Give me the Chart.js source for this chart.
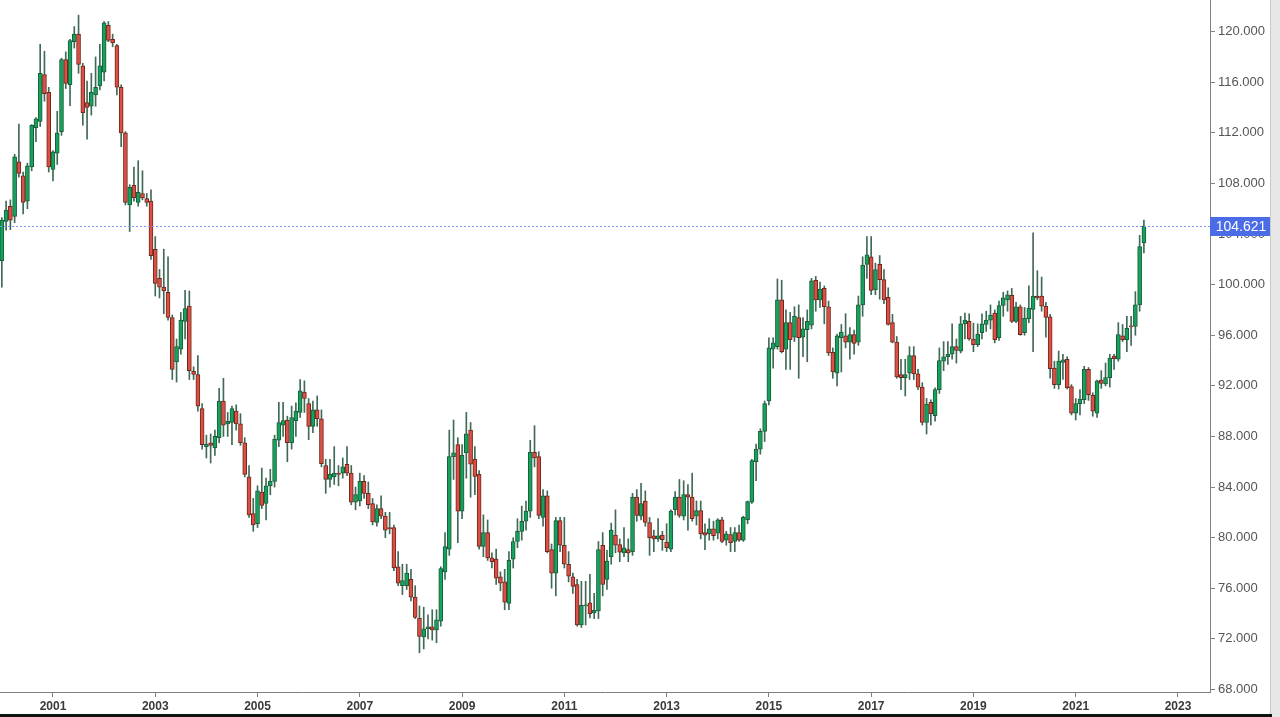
<!DOCTYPE html>
<html>
<head>
<meta charset="utf-8">
<script src="https://cdn.jsdelivr.net/npm/chart.js@4.4.1/dist/chart.umd.min.js"></script>
<style>
  html, body { margin: 0; padding: 0; background: #fff; }
  #wrap { position: absolute; left: 0; top: 0; width: 1270px; height: 714px; }
  #strip { position: absolute; left: 1270px; top: 0; width: 10px; height: 717px; background: #e6e6e6; border-left: 1px solid #c8c8c8; box-sizing: border-box; }
  #base { position: absolute; left: 0; top: 714px; width: 1272px; height: 3px; background: #111; }
</style>
</head>
<body>
<div id="wrap"><canvas id="chart"></canvas></div>
<div id="strip"></div>
<div id="base"></div>
<script>
// monthly candles, Jan 2000 -> May 2022 (one row per year)
const firstYear = 2000;

const open = [
  101.9,105.0,106.2,105.4,109.7,108.6,106.6,109.3,112.4,112.9,116.6,115.2,
  109.1,110.4,112.1,117.8,115.8,119.2,119.8,117.3,114.4,114.1,115.0,115.7,
  116.8,120.5,119.4,118.9,115.6,112.0,106.3,107.85,106.5,107.2,106.8,106.6,
  102.8,100.5,99.8,99.4,97.4,93.9,94.9,97.1,98.3,93.15,92.9,90.2,
  87.2,87.5,87.1,87.9,90.8,89.0,89.1,90.0,89.0,87.5,84.8,81.9,
  81.1,83.6,82.7,84.1,84.45,87.7,88.9,89.3,87.5,89.25,89.9,91.5,
  90.6,88.8,90.1,89.4,85.7,84.6,84.8,85.1,85.1,85.8,85.1,82.8,
  82.9,84.45,83.5,82.7,81.2,82.3,81.7,80.8,80.8,77.7,76.2,76.2,
  76.7,75.3,73.65,72.15,72.8,72.95,72.7,73.4,77.3,79.1,86.4,87.35,
  82.1,86.7,88.5,86.2,85.0,79.3,80.4,78.4,78.3,76.9,76.5,74.8,
  78.3,79.7,80.5,81.3,82.1,86.75,86.4,81.6,83.3,79.05,77.2,81.35,
  79.4,77.9,76.9,76.3,73.1,74.6,74.85,74.05,74.2,79.4,76.7,78.5,
  80.2,79.45,78.8,79.05,78.9,83.2,81.7,82.9,81.2,80.15,79.9,80.2,
  79.65,79.1,82.2,83.2,81.7,83.4,83.2,81.7,82.15,80.4,80.3,80.7,
  80.35,81.4,79.8,80.25,79.7,80.4,79.8,81.4,82.8,86.0,87.0,88.4,
  90.8,94.9,95.1,98.8,94.9,97.0,95.85,97.4,95.85,96.45,96.8,100.35,
  98.8,99.7,98.25,94.65,93.0,95.8,95.95,95.45,96.05,95.45,98.4,101.6,
  102.2,99.6,101.6,100.4,99.0,97.0,95.45,92.9,92.65,93.0,94.4,92.95,
  91.9,89.1,90.7,89.65,91.7,93.95,94.3,94.5,95.1,94.75,96.9,97.1,
  95.7,95.25,96.2,96.85,97.2,97.75,95.8,98.35,98.8,99.15,97.1,98.25,
  96.2,97.3,98.05,99.1,99.1,98.3,97.45,93.4,92.1,93.85,94.1,91.95,
  89.85,90.6,90.9,93.3,91.25,89.85,92.45,92.15,92.65,94.35,94.1,95.95,
  95.65,96.75,96.7,98.4,103.3
];

const high = [
  105.3,106.6,106.7,110.3,112.7,108.9,109.6,112.65,113.2,119.0,118.45,115.6,
  110.6,113.7,117.9,118.4,119.4,120.4,121.3,117.5,116.1,116.7,118.0,119.0,
  120.8,120.8,119.8,119.0,115.8,112.1,107.9,109.3,109.8,109.0,107.2,107.5,
  103.8,101.2,102.8,102.2,97.6,95.7,97.8,99.55,99.5,93.5,94.4,90.6,
  88.1,88.2,88.5,91.8,92.6,89.9,90.4,90.5,89.8,87.9,85.7,83.1,
  84.1,85.5,84.7,85.4,88.1,90.7,90.7,89.6,90.4,90.65,92.5,92.4,
  91.0,90.8,91.2,90.1,86.2,86.2,87.2,85.7,86.3,87.2,85.7,84.0,
  85.1,84.9,84.4,83.1,82.6,83.3,82.0,82.0,81.0,78.9,77.9,77.9,
  77.5,76.2,74.6,74.5,73.9,74.3,74.3,77.7,80.4,88.5,89.3,87.9,
  87.35,89.9,89.1,87.2,85.3,81.8,81.4,78.8,79.1,77.3,77.5,78.9,
  80.0,81.5,82.5,82.9,87.7,88.85,86.8,83.8,83.7,79.5,81.6,81.6,
  81.6,78.9,77.2,76.7,76.55,76.55,77.1,75.6,79.7,80.4,79.0,81.15,
  82.2,79.9,80.8,79.9,83.5,83.8,84.3,83.7,81.6,80.6,81.5,80.5,
  81.1,82.2,83.65,84.6,84.5,84.2,85.1,82.9,82.9,81.1,81.5,81.3,
  81.5,81.6,80.5,80.8,80.8,81.0,81.7,82.9,86.2,87.4,88.6,90.8,
  95.8,95.8,100.45,100.35,98.0,97.8,98.25,98.4,97.4,98.0,100.5,100.65,
  100.2,99.9,98.7,95.0,96.1,96.85,97.7,96.6,96.4,99.1,102.2,103.8,
  103.8,101.7,102.3,101.2,99.75,97.65,95.9,94.1,94.1,95.1,95.1,93.3,
  92.25,91.0,90.9,91.85,95.0,95.5,95.5,96.9,95.7,97.5,97.75,97.7,
  96.95,96.9,97.7,97.9,98.4,98.0,98.7,99.4,99.5,99.7,98.6,98.4,
  98.2,99.9,104.1,101.1,100.6,98.6,97.65,93.95,94.75,94.5,94.3,92.1,
  91.0,91.7,93.55,93.45,91.45,92.45,93.2,93.8,94.5,94.5,97.0,96.85,
  97.5,97.5,99.45,103.9,105.1
];

const low = [
  99.8,104.3,104.35,104.9,108.5,105.6,106.0,109.0,111.3,112.5,114.5,108.9,
  108.2,109.5,111.8,115.5,114.15,118.7,116.7,112.6,111.5,113.4,114.1,115.4,
  116.1,119.2,118.8,115.0,110.9,106.3,104.2,106.6,106.2,106.7,106.2,102.0,
  99.1,98.95,97.7,97.2,92.5,92.3,94.5,95.7,92.5,92.5,90.0,87.0,
  86.3,85.9,86.5,87.5,88.0,88.0,87.35,88.5,87.3,84.8,81.6,80.5,
  80.8,82.3,81.4,83.4,84.0,87.2,88.0,86.0,87.0,88.0,89.5,89.9,
  87.75,88.3,88.8,85.6,83.5,84.0,84.2,84.1,84.7,84.9,82.6,82.2,
  82.5,83.1,82.3,81.0,80.9,81.5,80.0,80.3,77.4,76.2,75.5,75.9,
  75.0,73.6,70.9,71.2,72.0,71.9,71.7,73.0,76.7,78.6,84.6,79.6,
  81.5,84.7,83.2,83.4,79.1,78.5,78.2,77.6,76.3,75.8,74.3,74.3,
  77.6,79.2,79.8,80.6,81.6,85.6,81.5,80.9,78.8,76.0,75.4,78.9,
  77.6,76.5,75.6,73.0,72.9,73.1,73.65,73.6,73.6,75.4,75.9,77.9,
  78.8,78.1,78.5,78.1,78.6,81.3,81.4,80.9,78.6,78.9,79.7,79.0,
  78.9,78.9,81.8,81.6,81.4,80.6,81.3,81.0,79.9,79.05,79.8,79.8,
  79.9,79.6,79.4,78.9,78.9,79.7,79.7,81.1,82.7,84.5,86.6,87.6,
  90.5,93.4,94.9,94.6,93.3,93.3,95.5,92.6,94.3,93.9,96.5,97.9,
  98.2,96.9,94.4,92.6,92.0,93.1,95.0,94.1,94.5,95.2,97.5,100.5,
  99.2,99.2,98.85,98.5,96.8,95.4,92.6,91.7,91.2,92.5,92.5,91.7,
  88.9,88.2,88.9,89.2,91.4,93.2,93.7,94.1,93.8,94.6,95.7,95.6,
  94.7,95.1,95.7,96.3,96.5,95.4,95.6,97.5,97.9,97.0,97.0,96.0,
  96.0,97.0,94.7,98.8,97.9,95.85,92.6,91.8,91.75,92.5,91.75,89.7,
  89.3,89.7,90.6,90.85,89.6,89.5,91.8,92.0,91.9,93.3,93.95,95.5,
  94.7,95.2,96.0,97.9,102.5
];

const close = [
  105.1,105.9,105.1,110.1,108.8,106.5,109.4,112.6,113.1,116.7,115.1,109.3,
  110.5,112.0,117.8,115.9,119.3,119.8,117.4,113.6,114.0,115.2,115.6,117.3,
  120.7,119.3,119.1,115.6,112.0,106.5,107.7,106.85,107.3,106.85,106.5,102.3,
  100.1,99.8,99.5,97.4,93.3,95.1,97.2,98.1,93.2,92.9,90.4,87.35,
  87.4,87.3,88.0,90.8,88.9,89.2,90.2,89.0,87.5,85.0,81.8,81.0,
  83.7,82.55,84.1,84.45,87.8,89.1,89.25,87.5,89.5,90.0,91.6,91.0,
  88.8,90.1,89.4,85.85,84.6,85.0,85.1,85.0,85.6,85.1,82.8,83.4,
  84.45,83.5,82.6,81.25,82.3,81.7,80.6,80.7,77.6,76.4,76.6,77.2,
  75.3,73.7,72.2,72.8,72.95,72.7,73.5,77.55,79.3,86.4,86.7,82.1,
  86.5,88.2,85.8,84.85,79.3,80.4,78.4,78.1,76.8,76.4,74.9,78.2,
  79.7,80.5,81.3,82.1,86.75,86.3,81.75,83.3,78.9,77.2,81.35,79.4,
  77.9,76.95,76.15,73.1,74.65,74.7,74.0,74.25,79.05,76.3,78.15,80.6,
  79.4,78.85,79.2,78.8,83.2,81.75,82.7,81.2,80.0,79.9,80.15,79.85,
  79.2,82.1,83.2,81.75,83.4,83.2,81.5,82.15,80.3,80.2,80.7,80.15,
  81.4,79.7,80.3,79.6,80.4,79.8,81.6,82.85,86.1,87.0,88.4,90.6,
  95.0,95.4,98.8,94.7,97.0,95.65,97.5,95.8,96.5,97.1,100.3,98.8,
  99.65,98.25,94.6,93.1,95.95,96.25,95.45,96.05,95.35,98.4,101.55,102.35,
  99.55,101.2,100.4,98.8,96.85,95.45,92.7,92.65,92.9,94.4,92.95,91.9,
  89.1,90.55,89.8,91.7,94.0,94.3,94.5,95.1,94.8,96.9,97.2,95.7,
  95.25,96.1,96.9,97.2,97.6,95.65,98.35,98.95,99.2,97.1,98.25,96.05,
  97.35,98.15,99.1,98.95,98.3,97.4,93.35,92.1,93.95,94.05,91.85,89.85,
  90.6,90.95,93.3,91.3,90.0,92.4,92.2,92.65,94.2,94.15,96.05,95.65,
  96.55,96.65,98.4,103.0,104.621
];

const xTicks = [2001, 2003, 2005, 2007, 2009, 2011, 2013, 2015, 2017, 2019, 2021, 2023];
const yTicks = [68, 72, 76, 80, 84, 88, 92, 96, 100, 104, 108, 112, 116, 120];

const FONT = "Arial, 'Liberation Sans', sans-serif";
const isUp = i => close[i] >= open[i];
const months = close.map((c, i) => firstYear + i / 12);
const lastIdx = close.length - 1;

// dotted line + blue price tag for the last close
const lastPricePlugin = {
  id: 'lastPrice',
  afterDatasetsDraw(chart) {
    const { ctx, chartArea } = chart;
    const y = Math.round(chart.scales.y.getPixelForValue(close[lastIdx])) + 0.5;
    ctx.save();
    ctx.strokeStyle = '#7d93f5';
    ctx.lineWidth = 1;
    ctx.setLineDash([2, 2]);
    ctx.beginPath();
    ctx.moveTo(chartArea.left, y);
    ctx.lineTo(chartArea.right, y);
    ctx.stroke();
    ctx.restore();
  },
  afterDraw(chart) {
    const { ctx, chartArea } = chart;
    const y = Math.round(chart.scales.y.getPixelForValue(close[lastIdx]));
    ctx.save();
    ctx.fillStyle = '#4a6ce6';
    ctx.fillRect(chartArea.right, y - 9, 61, 19);
    ctx.fillStyle = '#fff';
    ctx.font = '14px ' + FONT;
    ctx.textAlign = 'center';
    ctx.textBaseline = 'middle';
    ctx.fillText(close[lastIdx].toFixed(3), chartArea.right + 31, y + 1);
    ctx.restore();
  }
};

new Chart(document.getElementById('chart'), {
  type: 'bar',
  data: {
    datasets: [{
      label: 'body',
      data: months.map((x, i) => ({ x: x, y: [open[i], close[i]] })),
      backgroundColor: c => isUp(c.dataIndex) ? '#14a35c' : '#dd4e43',
      borderColor: c => isUp(c.dataIndex) ? '#1d5b3b' : '#6b2820',
      borderWidth: 1,
      borderSkipped: false,
      barThickness: 4,
      minBarLength: 1,
      grouped: false,
      order: 1
    }, {
      label: 'wick',
      data: months.map((x, i) => ({ x: x, y: [low[i], high[i]] })),
      backgroundColor: '#3f6a55',
      borderWidth: 0,
      barThickness: 1,
      grouped: false,
      order: 2
    }]
  },
  options: {
    responsive: true,
    maintainAspectRatio: false,
    animation: false,
    layout: { padding: 0 },
    plugins: {
      legend: { display: false },
      tooltip: { enabled: false }
    },
    scales: {
      x: {
        type: 'linear',
        offset: false,
        min: 1999.964,
        max: 2023.626,
        afterBuildTicks: axis => { axis.ticks = xTicks.map(v => ({ value: v })); },
        afterFit: axis => {
          axis.height = 22;
          axis.paddingLeft = 0; axis.paddingRight = 0;
        },
        ticks: {
          callback: v => String(v),
          autoSkip: false,
          maxRotation: 0,
          padding: 2,
          color: '#3a3a3a',
          font: { family: FONT, size: 12, weight: 'bold' }
        },
        grid: { offset: false, drawOnChartArea: false, drawTicks: true, tickLength: 5, color: '#808080' },
        border: { color: '#808080' }
      },
      y: {
        position: 'right',
        min: 67.8,
        max: 122.5,
        afterBuildTicks: axis => { axis.ticks = yTicks.map(v => ({ value: v })); },
        afterFit: axis => {
          axis.width = 60;
          axis.paddingTop = 0; axis.paddingBottom = 0;
        },
        ticks: {
          callback: v => v.toFixed(3),
          padding: 3,
          color: '#555',
          font: { family: FONT, size: 13 }
        },
        grid: { drawOnChartArea: false, drawTicks: true, tickLength: 5, color: '#808080' },
        border: { color: '#808080' }
      }
    }
  },
  plugins: [lastPricePlugin]
});
</script>
</body>
</html>
